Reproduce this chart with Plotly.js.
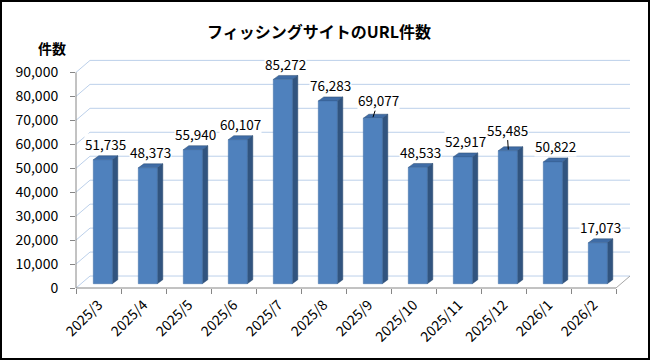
<!DOCTYPE html>
<html>
<head>
<meta charset="utf-8">
<script src="https://cdn.plot.ly/plotly-3.0.1.min.js"></script>
<style>
  html, body { margin: 0; padding: 0; background: #fff; }
  #wrap { position: relative; width: 650px; height: 360px; }
  #chart { width: 650px; height: 360px; }
  #frame { position: absolute; left: 0; top: 0; width: 650px; height: 360px; box-sizing: border-box; border: 2px solid #000; pointer-events: none; }
</style>
</head>
<body>
<div id="wrap"><div id="chart"></div><div id="frame"></div></div>
<script>
// ---- data ----
const categories = ['2025/3','2025/4','2025/5','2025/6','2025/7','2025/8','2025/9','2025/10','2025/11','2025/12','2026/1','2026/2'];
const counts = [51735, 48373, 55940, 60107, 85272, 76283, 69077, 48533, 52917, 55485, 50822, 17073];
const yTicks = [0, 10000, 20000, 30000, 40000, 50000, 60000, 70000, 80000, 90000];
const titleText = 'フィッシングサイトのURL件数';
const yTitleText = '件数';

// ---- geometry (pixel-based 3D look) ----
const PX_PER_CAT = 45;          // px per category
const PX_PER_UNIT = 2.4 / 1000; // px per count
const px2x = p => p / PX_PER_CAT;
const px2y = p => p / PX_PER_UNIT;
const WALL_DX = px2x(14), WALL_DY = px2y(12);
const BAR_W = px2x(19), BAR_SHIFT = px2x(4.3), BAR_LIFT = px2y(4.3);
const SIDE_DX = px2x(5.5), SIDE_DY = px2y(4);
const BAR_OFFSET = -BAR_W / 2 + BAR_SHIFT;
const XMAX = categories.length - 0.5 + px2x(15);
const YMAX = 96000;

const FONT = '"Noto Sans CJK JP", "Noto Sans", sans-serif';
const fmt = v => v.toLocaleString('en-US');

const shapes = [];
// back wall gridlines with floor/wall diagonals
yTicks.forEach(v => {
  shapes.push({
    type: 'path', xref: 'x', yref: 'y', layer: 'below',
    path: `M -0.5,${v} L ${-0.5 + WALL_DX},${v + WALL_DY} L ${categories.length - 0.5 + WALL_DX},${v + WALL_DY}`,
    line: { color: '#BCD0EA', width: 1 }
  });
});
// floor right edge
shapes.push({
  type: 'path', xref: 'x', yref: 'y', layer: 'below',
  path: `M ${categories.length - 0.5},0 L ${categories.length - 0.5 + WALL_DX},${WALL_DY}`,
  line: { color: '#A6A6A6', width: 1 }
});
// category axis line (front floor edge)
shapes.push({ type: 'line', xref: 'x', yref: 'paper', x0: -0.5, x1: categories.length - 0.5, y0: 0, y1: 0, line: { color: '#868686', width: 1 }, layer: 'above' });
// value axis line
shapes.push({ type: 'line', xref: 'paper', yref: 'y', x0: 0, x1: 0, y0: 0, y1: yTicks[yTicks.length - 1], line: { color: '#868686', width: 1 }, layer: 'above' });

// bar side + top faces
counts.forEach((v, i) => {
  const xl = i + BAR_OFFSET, xr = xl + BAR_W;
  const yb = BAR_LIFT, yt = BAR_LIFT + v;
  shapes.push({
    type: 'path', xref: 'x', yref: 'y', layer: 'below',
    path: `M ${xr},${yb} L ${xr + SIDE_DX},${yb + SIDE_DY} L ${xr + SIDE_DX},${yt + SIDE_DY} L ${xr},${yt} Z`,
    fillcolor: '#31547F', line: { color: '#2B4A71', width: 0.5 }
  });
  shapes.push({
    type: 'path', xref: 'x', yref: 'y', layer: 'below',
    path: `M ${xl},${yt} L ${xl + SIDE_DX},${yt + SIDE_DY} L ${xr + SIDE_DX},${yt + SIDE_DY} L ${xr},${yt} Z`,
    fillcolor: '#3F6CA6', line: { color: '#2B4A71', width: 0.5 }
  });
});

// data labels
const leader = { 6: { xs: 4.5, ys: 5.3, ax: 5.5, ay: -17 }, 9: { xs: 4.8, ys: 5.5, ax: -1.3, ay: -20 } };
const annotations = counts.map((v, i) => {
  const base = {
    x: i, y: v, xref: 'x', yref: 'y', text: fmt(v),
    font: { family: FONT, size: 13.5, color: '#000' },
    bgcolor: '#fff', borderpad: 0
  };
  if (leader[i]) {
    const L = leader[i];
    return Object.assign(base, { showarrow: true, arrowhead: 0, arrowwidth: 1, arrowcolor: '#000', ax: L.ax, ay: L.ay, xshift: L.xs, yshift: L.ys });
  }
  return Object.assign(base, { showarrow: false, xshift: 7, yshift: 20, xanchor: 'center', yanchor: 'middle' });
});
annotations.push({
  xref: 'paper', yref: 'paper', x: -24 / 555, y: (288 - 48) / 230.4,
  text: '<b>' + yTitleText + '</b>', showarrow: false, xanchor: 'center', yanchor: 'middle',
  font: { family: FONT, size: 14, color: '#000' }
});

const trace = {
  type: 'bar', x: categories, y: counts,
  base: counts.map(() => BAR_LIFT),
  width: BAR_W, offset: BAR_OFFSET,
  marker: { color: '#4F81BD', line: { color: '#3E6DA5', width: 0.5 } },
  hoverinfo: 'skip'
};

const layout = {
  width: 650, height: 360,
  margin: { l: 76, r: 650 - 76 - PX_PER_CAT * (XMAX + 0.5), t: 288 - YMAX * PX_PER_UNIT, b: 72, pad: 0 },
  paper_bgcolor: '#fff', plot_bgcolor: '#fff',
  showlegend: false,
  title: {
    text: '<b>' + titleText + '</b>', xref: 'container', yref: 'container',
    x: 319 / 650, y: 1 - 32 / 360, xanchor: 'center', yanchor: 'middle',
    font: { family: FONT, size: 16, color: '#000' }
  },
  xaxis: {
    type: 'category', range: [-0.5, XMAX], showgrid: false, zeroline: false, showline: false,
    ticks: 'outside', tickson: 'boundaries', ticklen: 5, tickcolor: '#868686', tickwidth: 1,
    ticklabelstandoff: 5,
    tickangle: -45, tickfont: { family: FONT, size: 14, color: '#000' }, fixedrange: true
  },
  yaxis: {
    range: [0, YMAX], showgrid: false, zeroline: false, showline: false,
    tickvals: yTicks, ticktext: yTicks.map(fmt),
    ticks: 'outside', ticklen: 5, tickcolor: '#868686', tickwidth: 1,
    ticklabelstandoff: 9,
    tickfont: { family: FONT, size: 14, color: '#000' }, fixedrange: true
  },
  shapes: shapes,
  annotations: annotations
};

Plotly.newPlot('chart', [trace], layout, { displayModeBar: false, staticPlot: true });
</script>
</body>
</html>
